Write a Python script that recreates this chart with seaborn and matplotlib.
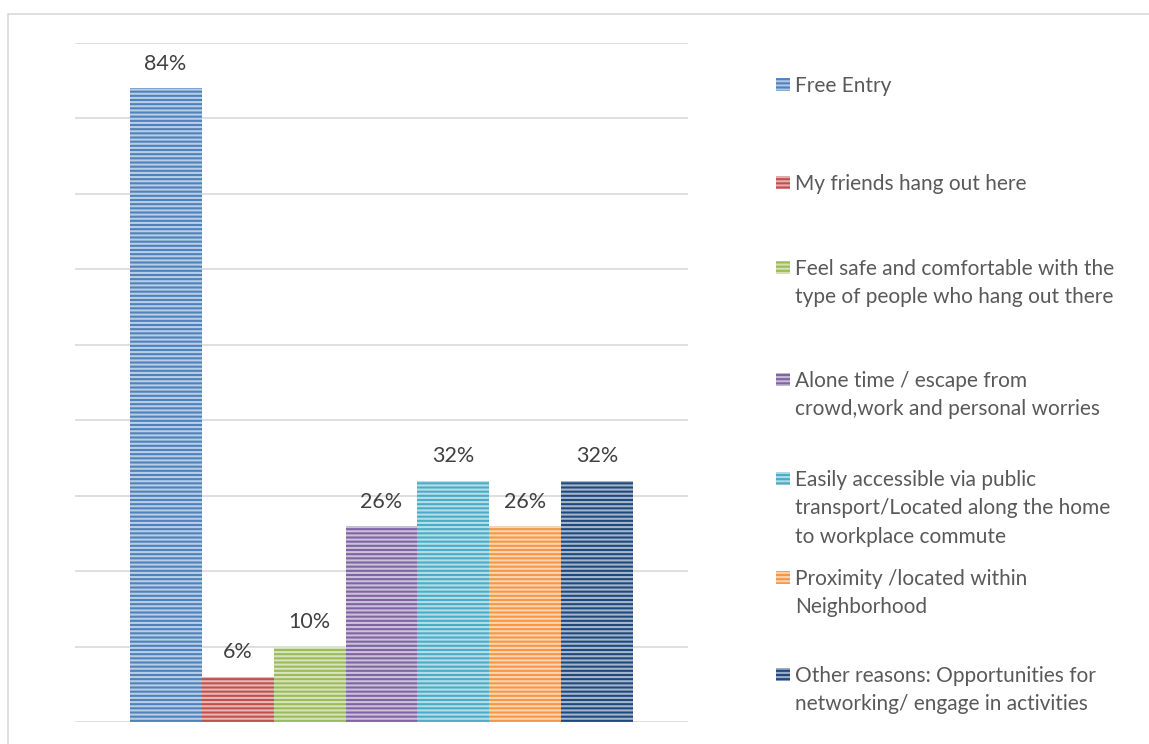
import matplotlib
matplotlib.use("Agg")
import matplotlib.pyplot as plt
import matplotlib.colors as mcolors
from matplotlib.patches import Rectangle
import seaborn as sns
import pandas as pd

# Reasons for visiting, share of respondents (%)
reasons = [
    "Free Entry",
    "My friends hang out here",
    "Feel safe and comfortable with the\ntype of people who hang out there",
    "Alone time / escape from\ncrowd,work and personal worries",
    "Easily accessible via public\ntransport/Located along the home\nto workplace commute",
    "Proximity /located within\nNeighborhood",
    "Other reasons: Opportunities for\nnetworking/ engage in activities",
]
shares = [84, 6, 10, 26, 32, 26, 32]
colors = ["#4F81BD", "#C0504D", "#9BBB59", "#8064A2", "#4BACC6", "#F79646", "#1F497D"]

df = pd.DataFrame({"group": [""] * len(reasons), "reason": reasons, "share": shares})

sns.set_theme(style="white")
plt.rcParams["font.family"] = ["Lato", "DejaVu Sans"]
plt.rcParams["hatch.linewidth"] = 1.5

W, H = 1149, 744
fig = plt.figure(figsize=(W / 100, H / 100), dpi=100)
ax = fig.add_axes([75 / W, 1 - 722 / H, (688 - 75) / W, (722 - 43) / H])


def tint(c, amt):
    r, g, b = mcolors.to_rgb(c)
    return (r + (1 - r) * amt, g + (1 - g) * amt, b + (1 - b) * amt)


sns.barplot(data=df, x="group", y="share", hue="reason", hue_order=reasons,
            palette=colors, width=0.822, dodge=True, legend=False, ax=ax,
            saturation=1, linewidth=0)

bars = [p for p in ax.patches if p.get_height() > 0]
bars.sort(key=lambda p: p.get_x())
for p, c, v in zip(bars, colors, shares):
    p.set_edgecolor(tint(c, 0.6))
    p.set_hatch("----")
    p.set_linewidth(0)
    ax.text(p.get_x() + p.get_width() / 2, v + 1.9, f"{v}%",
            ha="center", va="bottom", fontsize=15.5, color="#404040")

ax.set_xlim(-0.5, 0.5)
ax.set_ylim(0, 90)
ax.set_yticks(range(0, 91, 10))
ax.set_yticklabels([])
ax.set_xticks([])
ax.set_xlabel("")
ax.set_ylabel("")
ax.grid(axis="y", color="#D9D9D9", linewidth=1.2)
ax.set_axisbelow(True)
for s in ax.spines.values():
    s.set_visible(False)

# Legend on the right: swatch beside the first line of each label
first_line_y = [85, 183, 268, 380, 479, 578, 675]
for lbl, c, yy in zip(reasons, colors, first_line_y):
    fig.patches.append(Rectangle((776 / W, 1 - (yy + 6) / H), 14 / W, 13 / H,
                                 transform=fig.transFigure, facecolor=c,
                                 edgecolor=tint(c, 0.55), hatch="----",
                                 linewidth=0))
    fig.text(795 / W, 1 - (yy - 9) / H, lbl, ha="left", va="top",
             fontsize=15, color="#595959", linespacing=1.52)

# Chart frame
fig.patches.append(Rectangle((8 / W, -0.1), 1.2, 1 - 14 / H + 0.1,
                             transform=fig.transFigure, facecolor="none",
                             edgecolor="#D9D9D9", linewidth=1.2, zorder=-1))

fig.savefig("out.png", dpi=100)
